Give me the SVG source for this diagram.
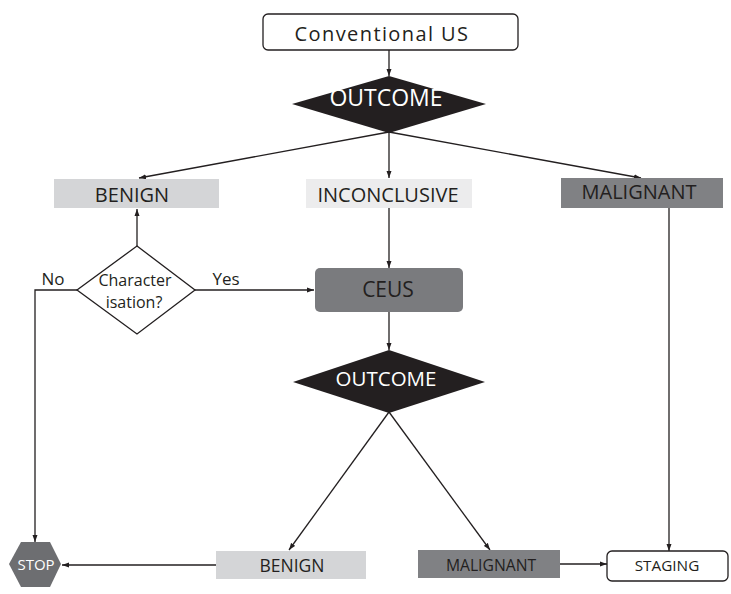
<svg xmlns="http://www.w3.org/2000/svg" width="731" height="594" viewBox="0 0 731 594">
<defs>
<marker id="ah" markerWidth="8" markerHeight="6" refX="7" refY="3" orient="auto" markerUnits="userSpaceOnUse">
<path d="M0,0.5 L7,3 L0,5.5 Z" fill="#231f20"/>
</marker>
<style>
text{font-family:"Open Sans","Noto Sans","Liberation Sans",sans-serif;fill:#231f20;text-anchor:middle}
.w{fill:#ffffff}
.ln{stroke:#231f20;stroke-width:1.3;fill:none}
.arr{marker-end:url(#ah)}
.outline{fill:#ffffff;stroke:#231f20;stroke-width:1.3}
</style>
</defs>
<rect width="731" height="594" fill="#ffffff"/>
<g id="connectors">
<line class="ln arr" x1="389" y1="50" x2="389" y2="76"/>
<line class="ln arr" x1="389" y1="132" x2="139" y2="178"/>
<line class="ln arr" x1="389" y1="132" x2="389" y2="178"/>
<line class="ln arr" x1="389" y1="132" x2="641" y2="178"/>
<line class="ln arr" x1="137" y1="246" x2="137" y2="209"/>
<line class="ln arr" x1="195" y1="290" x2="314" y2="290"/>
<polyline class="ln arr" points="77,290 35,290 35,542"/>
<line class="ln arr" x1="389" y1="208" x2="389" y2="268"/>
<line class="ln arr" x1="389" y1="312" x2="389" y2="350"/>
<line class="ln arr" x1="389" y1="412" x2="289" y2="550"/>
<line class="ln arr" x1="389" y1="412" x2="490" y2="550"/>
<line class="ln arr" x1="669" y1="208" x2="669" y2="551"/>
<line class="ln arr" x1="216" y1="565" x2="62" y2="565"/>
<line class="ln arr" x1="560" y1="564" x2="607" y2="564"/>
<text x="53" y="285" font-size="17">No</text>
<text x="226" y="285" font-size="17">Yes</text>
</g>
<g id="conventional-us">
<rect class="outline" x="263" y="14" width="255" height="36" rx="5"/>
<text x="382" y="41" font-size="20" letter-spacing="1.4">Conventional US</text>
</g>
<g id="outcome1">
<polygon points="389,76 486,104 389,133 292,104" fill="#231f20"/>
<text class="w" x="386" y="106" font-size="23">OUTCOME</text>
</g>
<g id="benign1">
<rect x="54" y="179" width="165" height="29" fill="#d4d5d7"/>
<text x="132" y="202" font-size="20">BENIGN</text>
</g>
<g id="inconclusive">
<rect x="306" y="179" width="166" height="29" fill="#ececed"/>
<text x="388" y="202" font-size="20">INCONCLUSIVE</text>
</g>
<g id="malignant1">
<rect x="561" y="178" width="162" height="30" fill="#808184"/>
<text x="639" y="199" font-size="20">MALIGNANT</text>
</g>
<g id="characterisation">
<polygon class="outline" points="137,246 195,290 137,334 77,290"/>
<text x="135" y="286" font-size="16">Character</text>
<text x="134" y="308" font-size="16">isation?</text>
</g>
<g id="ceus">
<rect x="315" y="268" width="148" height="44" rx="5" fill="#7a7b7e"/>
<text x="388" y="297" font-size="21">CEUS</text>
</g>
<g id="outcome2">
<polygon points="389,350 485,382 389,413 293,382" fill="#231f20"/>
<text class="w" x="386" y="386" font-size="20.5">OUTCOME</text>
</g>
<g id="stop">
<polygon points="9,564 21,542 50,542 61,564 50,587 21,587" fill="#6d6e71"/>
<text class="w" x="36" y="570" font-size="15">STOP</text>
</g>
<g id="benign2">
<rect x="216" y="551" width="150" height="28" fill="#d4d5d7"/>
<text x="292" y="572" font-size="17.5">BENIGN</text>
</g>
<g id="malignant2">
<rect x="418" y="550" width="142" height="28" fill="#808184"/>
<text x="491" y="571" font-size="15.7">MALIGNANT</text>
</g>
<g id="staging">
<rect class="outline" x="607" y="551" width="121" height="30" rx="5"/>
<text x="667" y="571" font-size="15.3">STAGING</text>
</g>
</svg>
